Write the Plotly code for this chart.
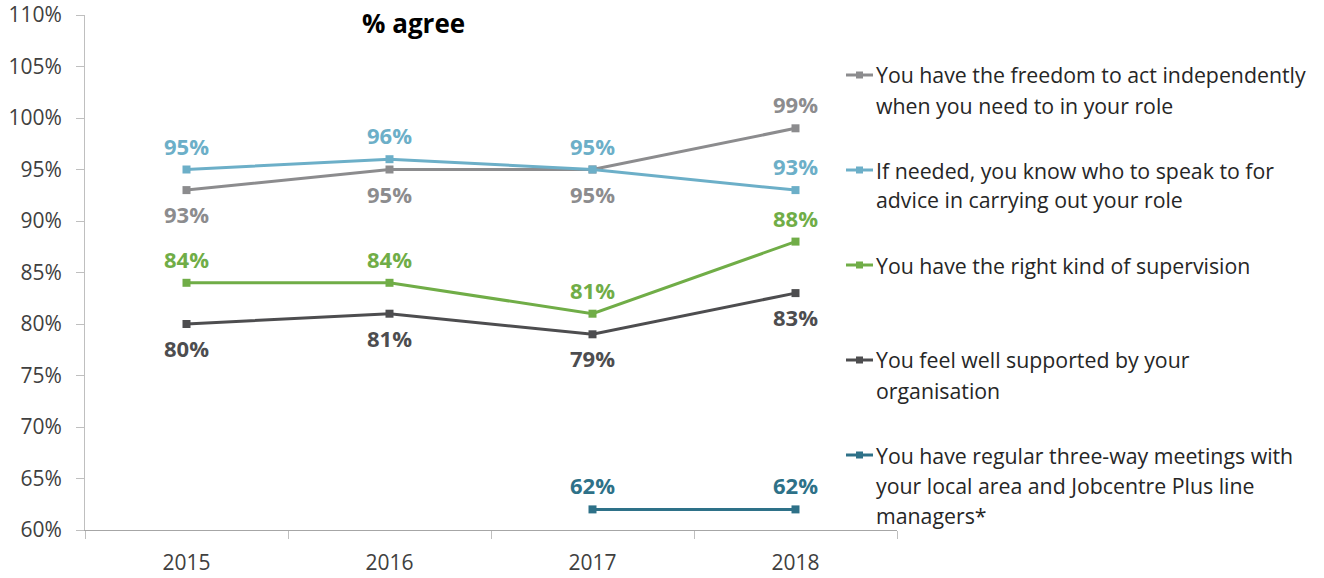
import plotly.graph_objects as go

years = ["2015", "2016", "2017", "2018"]

freedom = [93, 95, 95, 99]
know_who = [95, 96, 95, 93]
supervision = [84, 84, 81, 88]
supported = [80, 81, 79, 83]
three_way = [None, None, 62, 62]

series_names = [
    "You have the freedom to act independently<br>when you need to in your role",
    "If needed, you know who to speak to for<br>advice in carrying out your role",
    "You have the right kind of supervision",
    "You feel well supported by your<br>organisation",
    "You have regular three-way meetings with<br>your local area and Jobcentre Plus line<br>managers*",
]
series_values = [freedom, know_who, supervision, supported, three_way]
series_colors = ["#8C8C8E", "#6CAFC8", "#70AD47", "#4D4D4F", "#2E7188"]
# +1 = label above the point, -1 = below
label_sides = [
    [-1, -1, -1, 1],
    [1, 1, 1, 1],
    [1, 1, 1, 1],
    [-1, -1, -1, -1],
    [1, 1, 1, 1],
]

FONT = "Open Sans, Segoe UI, sans-serif"
W, H = 1324, 578
L, R, T, B = 85, 897, 15, 530

fig = go.Figure()
annotations = []
shapes = []

for name, vals, col, sides in zip(series_names, series_values, series_colors, label_sides):
    fig.add_trace(go.Scatter(
        x=years, y=vals, mode="lines+markers", name=name,
        line=dict(color=col, width=3),
        marker=dict(symbol="square", size=8, color=col),
        showlegend=False, connectgaps=False,
    ))
    for idx, (v, s) in enumerate(zip(vals, sides)):
        if v is None:
            continue
        # category axis: annotate by category index
        annotations.append(dict(
            x=idx, y=v, xref="x", yref="y", text=f"<b>{v}%</b>",
            showarrow=False, yshift=24 * s,
            font=dict(family=FONT, size=22, color=col),
        ))

# custom legend on the right
def px_x(px):
    return (px - L) / (R - L)

def px_y(py):
    return (B - py) / (B - T)

legend_tops = [75, 170, 265, 360, 455]
line_gap = 30
for name, col, top in zip(series_names, series_colors, legend_tops):
    shapes.append(dict(type="line", xref="paper", yref="paper",
                       x0=px_x(846), x1=px_x(873), y0=px_y(top), y1=px_y(top),
                       line=dict(color=col, width=3)))
    shapes.append(dict(type="rect", xref="paper", yref="paper",
                       x0=px_x(856), x1=px_x(863), y0=px_y(top - 3.5), y1=px_y(top + 3.5),
                       fillcolor=col, line=dict(width=0)))
    for i, line in enumerate(name.split("<br>")):
        annotations.append(dict(
            x=px_x(874), y=px_y(top + i * line_gap), xref="paper", yref="paper",
            text=line, showarrow=False, xanchor="left", yanchor="middle",
            font=dict(family=FONT, size=21.3, color="#262626"),
        ))

annotations.append(dict(
    x=px_x(413), y=px_y(23), xref="paper", yref="paper", text="<b>% agree</b>",
    showarrow=False, xanchor="center", yanchor="middle",
    font=dict(family=FONT, size=26, color="#000000"),
))

fig.update_layout(
    width=W, height=H,
    margin=dict(l=L, r=W - R, t=T, b=H - B, pad=0, autoexpand=False),
    paper_bgcolor="white", plot_bgcolor="white",
    annotations=annotations, shapes=shapes,
    font=dict(family=FONT, size=21, color="#404040"),
    xaxis=dict(
        type="category", categoryorder="array", categoryarray=years,
        range=[-0.5, 3.5], tickson="boundaries", ticks="outside", ticklen=8,
        tickcolor="#BFBFBF", showline=True, linecolor="#A6A6A6", linewidth=1,
        showgrid=False, tickfont=dict(size=21, color="#404040"),
        automargin=False, ticklabelstandoff=14,
    ),
    yaxis=dict(
        range=[60, 110], dtick=5, ticksuffix="%", ticks="outside", ticklen=8,
        tickcolor="#BFBFBF", showline=True, linecolor="#BFBFBF", linewidth=1,
        showgrid=False, zeroline=False, tickfont=dict(size=21, color="#404040"),
        automargin=False, ticklabelstandoff=10,
    ),
)

fig.write_html("out.html")
